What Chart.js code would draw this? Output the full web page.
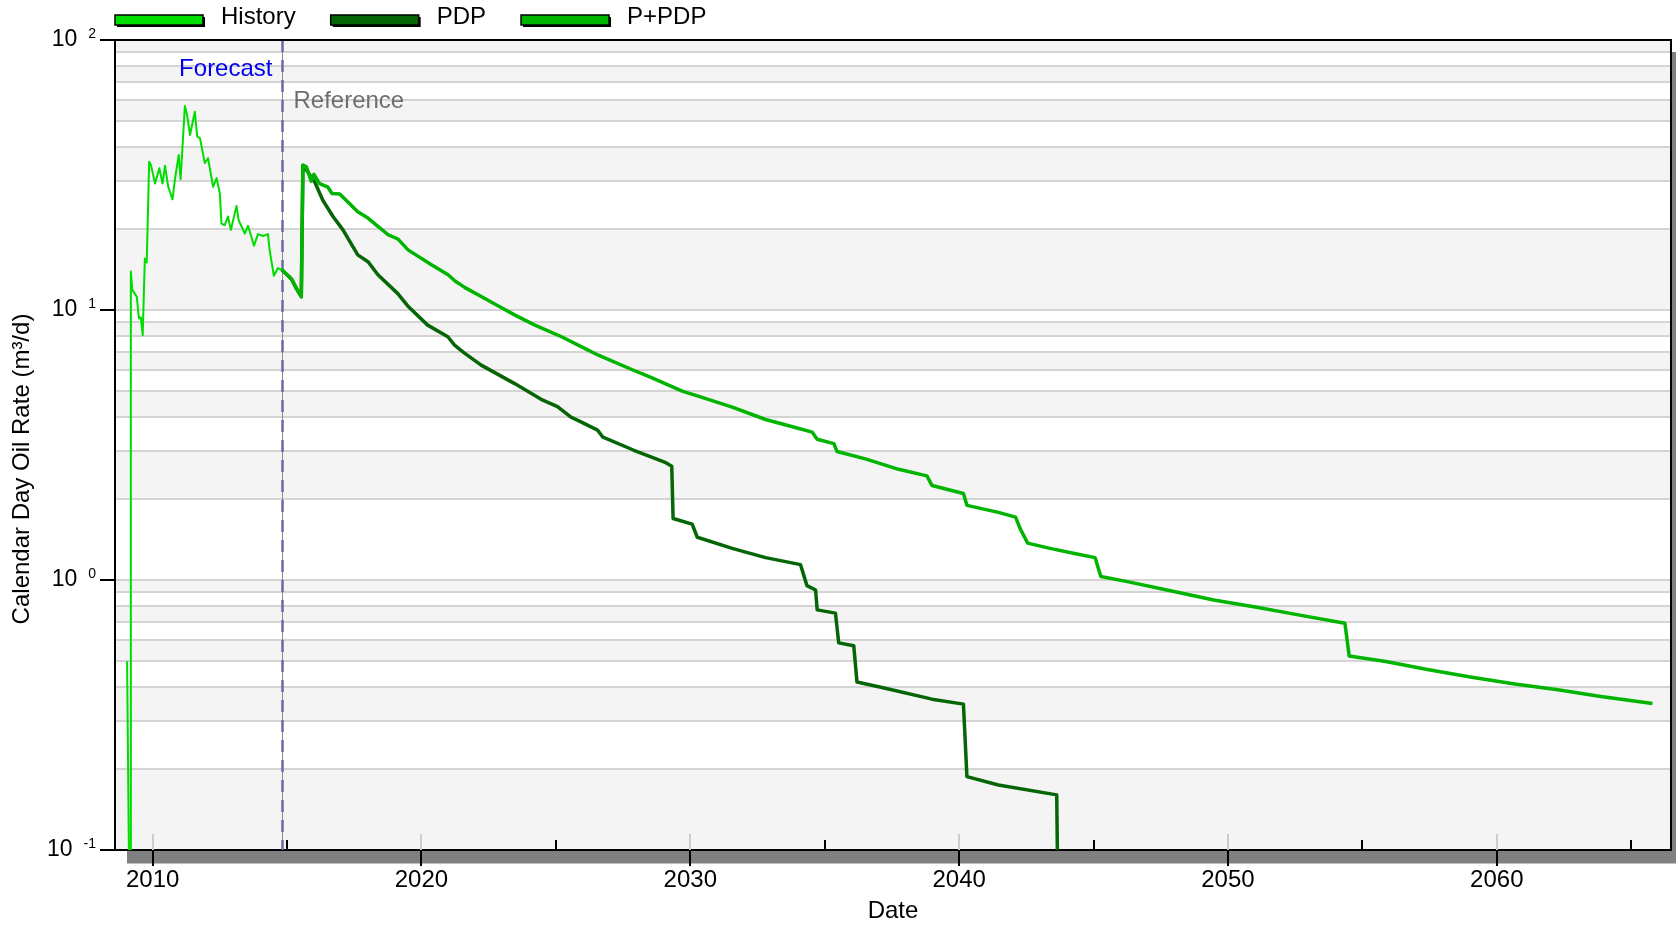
<!DOCTYPE html>
<html>
<head>
<meta charset="utf-8">
<title>Calendar Day Oil Rate</title>
<script src="https://cdn.jsdelivr.net/npm/chart.js@4.4.1/dist/chart.umd.min.js"></script>
<style>
  html, body { margin: 0; padding: 0; background: #fff; }
  #wrap { width: 1676px; height: 926px; position: relative; }
</style>
</head>
<body>
<div id="wrap"><canvas id="rate-chart"></canvas></div>
<script>
// values (years as decimals, rates in m3/d)
const histYears = [2009.05, 2009.12, 2009.18, 2009.19, 2009.24, 2009.41, 2009.49, 2009.56, 2009.63, 2009.71,
  2009.78, 2009.87, 2009.94, 2010.09, 2010.25, 2010.37, 2010.46, 2010.58, 2010.74, 2010.83,
  2010.97, 2011.04, 2011.20, 2011.28, 2011.39, 2011.57, 2011.66, 2011.76, 2011.94, 2012.06,
  2012.25, 2012.38, 2012.50, 2012.56, 2012.68, 2012.80, 2012.91, 2013.12, 2013.20, 2013.43,
  2013.55, 2013.77, 2013.92, 2014.11, 2014.29, 2014.35, 2014.51, 2014.66, 2014.80];
const histRates = [0.5, 0.09, 0.09, 13.9, 11.9, 11.2, 9.3, 9.4, 8.07, 15.5,
  15.0, 35.4, 34.4, 29.4, 33.5, 29.4, 34.2, 28.6, 25.7, 30.5,
  37.5, 30.5, 57.0, 52.8, 44.5, 54.2, 43.9, 43.3, 35.0, 36.5,
  28.6, 30.8, 27.0, 20.9, 20.6, 22.2, 19.8, 24.3, 21.5, 19.2,
  20.5, 17.3, 19.1, 18.8, 19.1, 16.7, 13.4, 14.3, 14.1];

const pdpYears = [2014.80, 2015.04, 2015.17, 2015.35, 2015.53, 2015.59, 2015.72, 2016.03, 2016.33, 2016.71,
  2017.08, 2017.63, 2018.01, 2018.38, 2019.12, 2019.49, 2020.23, 2020.98, 2021.23, 2021.60,
  2022.22, 2023.45, 2024.45, 2025.06, 2025.56, 2025.93, 2026.55, 2026.75, 2027.88, 2029.09,
  2029.31, 2029.36, 2030.07, 2030.26, 2031.56, 2032.80, 2034.10, 2034.34, 2034.66, 2034.72,
  2035.40, 2035.52, 2036.08, 2036.20, 2037.13, 2038.99, 2040.16, 2040.29, 2041.46, 2043.63,
  2043.69];
const pdpRates = [14.1, 13.4, 13.0, 12.0, 11.2, 34.4, 33.0, 29.8, 25.5, 22.2,
  19.8, 16.0, 15.1, 13.5, 11.5, 10.35, 8.79, 7.96, 7.41, 6.92,
  6.25, 5.35, 4.67, 4.39, 4.01, 3.85, 3.59, 3.38, 3.03, 2.72,
  2.64, 1.69, 1.61, 1.44, 1.31, 1.21, 1.14, 0.953, 0.918, 0.775,
  0.754, 0.585, 0.571, 0.419, 0.400, 0.362, 0.347, 0.187, 0.174, 0.160,
  0.05];

const ppdpYears = [2014.80, 2015.04, 2015.17, 2015.35, 2015.53, 2015.59, 2015.72, 2015.90, 2016.00, 2016.21,
  2016.52, 2016.67, 2016.96, 2017.63, 2018.01, 2018.38, 2018.76, 2019.13, 2019.50, 2019.88,
  2020.37, 2020.99, 2021.25, 2021.62, 2022.24, 2022.86, 2023.48, 2024.22, 2025.21, 2025.96,
  2026.58, 2027.82, 2028.47, 2029.70, 2030.32, 2031.56, 2032.80, 2034.04, 2034.53, 2034.72,
  2035.34, 2035.46, 2036.51, 2037.75, 2038.80, 2038.99, 2040.16, 2040.29, 2041.46, 2042.10,
  2042.27, 2042.55, 2043.38, 2044.34, 2045.06, 2045.27, 2046.26, 2047.86, 2049.47, 2051.07,
  2052.67, 2054.35, 2054.51, 2055.87, 2057.47, 2059.07, 2060.67, 2062.27, 2063.87, 2065.79];
const ppdpRates = [14.1, 13.4, 13.0, 12.0, 11.2, 34.4, 33.9, 30.0, 31.8, 29.4,
  28.5, 27.0, 26.9, 23.1, 21.9, 20.4, 19.0, 18.3, 16.7, 15.8,
  14.7, 13.5, 12.8, 12.1, 11.2, 10.35, 9.57, 8.79, 7.96, 7.3,
  6.8, 6.02, 5.66, 5.01, 4.79, 4.37, 3.93, 3.64, 3.53, 3.32,
  3.20, 2.99, 2.81, 2.57, 2.43, 2.24, 2.09, 1.89, 1.78, 1.71,
  1.55, 1.37, 1.31, 1.25, 1.21, 1.03, 0.986, 0.912, 0.843, 0.792,
  0.741, 0.691, 0.523, 0.499, 0.465, 0.436, 0.412, 0.392, 0.370, 0.349];

const seriesNames = ["History", "PDP", "P+PDP"];
const seriesColors = ["#00dd00", "#066606", "#00b400"];

const yTickValues = [0.1, 0.2, 0.3, 0.4, 0.5, 0.6, 0.7, 0.8, 0.9,
  1, 2, 3, 4, 5, 6, 7, 8, 9,
  10, 20, 30, 40, 50, 60, 70, 80, 90, 100];
const yLabelValues = [100, 10, 1, 0.1];
const yLabelExponents = ["2", "1", "0", "-1"];
const xTickValues = [2010, 2015, 2020, 2025, 2030, 2035, 2040, 2045, 2050, 2055, 2060, 2065];
const referenceYear = 2014.83;

const FONT = "'Liberation Sans', Arial, sans-serif";
Chart.defaults.font.family = FONT;
Chart.defaults.color = "#000";

const toPoints = (xs, ys) => xs.map((x, i) => ({ x: x, y: ys[i] }));
const isPow10 = (v) => Math.abs(Math.log10(v) - Math.round(Math.log10(v))) < 1e-9;

// shadow + alternating bands behind the plot
const backdrop = {
  id: "backdrop",
  beforeDraw(chart) {
    const { ctx, chartArea: a } = chart;
    const y = chart.scales.y;
    ctx.save();
    ctx.fillStyle = "#fff";
    ctx.fillRect(0, 0, chart.width, chart.height);
    ctx.fillStyle = "#808080";
    ctx.fillRect(a.left + 12, a.top + 12, a.right - a.left + 12, a.bottom - a.top + 1.5);
    const vals = yTickValues.slice().sort((p, q) => q - p);
    for (let i = 0; i < vals.length - 1; i++) {
      const y1 = y.getPixelForValue(vals[i]);
      const y2 = y.getPixelForValue(vals[i + 1]);
      ctx.fillStyle = i % 2 === 0 ? "#f4f4f4" : "#ffffff";
      ctx.fillRect(a.left, y1, a.right - a.left, y2 - y1);
    }
    ctx.restore();
  },
  beforeDatasetsDraw(chart) {
    const { ctx, chartArea: a } = chart;
    const x = chart.scales.x;
    ctx.save();
    // small tick marks along the bottom axis
    xTickValues.forEach((v) => {
      const px = Math.round(x.getPixelForValue(v));
      ctx.beginPath();
      if (v % 10 === 0) {
        ctx.strokeStyle = "#cccccc";
        ctx.lineWidth = 2;
        ctx.moveTo(px, a.bottom);
        ctx.lineTo(px, a.bottom - 16);
      } else {
        ctx.strokeStyle = "#000";
        ctx.lineWidth = 2;
        ctx.moveTo(px, a.bottom);
        ctx.lineTo(px, a.bottom - 10);
      }
      ctx.stroke();
    });
    // reference date line
    const rx = Math.round(x.getPixelForValue(referenceYear)) + 0.5;
    ctx.beginPath();
    ctx.strokeStyle = "#8a8a8a";
    ctx.lineWidth = 1;
    ctx.moveTo(rx, a.top);
    ctx.lineTo(rx, a.bottom);
    ctx.stroke();
    ctx.beginPath();
    ctx.setLineDash([12, 8]);
    ctx.strokeStyle = "#6a6aa6";
    ctx.lineWidth = 2.5;
    ctx.moveTo(rx, a.top);
    ctx.lineTo(rx, a.bottom);
    ctx.stroke();
    ctx.restore();
  }
};

// frame, legend, y labels, notes
const overlay = {
  id: "overlay",
  afterDraw(chart) {
    const { ctx, chartArea: a } = chart;
    const x = chart.scales.x;
    const y = chart.scales.y;
    ctx.save();

    ctx.strokeStyle = "#000";
    ctx.lineWidth = 2;
    ctx.beginPath();
    ctx.moveTo(a.left, a.top);
    ctx.lineTo(a.right, a.top);
    ctx.lineTo(a.right, a.bottom);
    ctx.stroke();

    // legend
    let lx = a.left;
    const ly = 15;
    ctx.font = "24px " + FONT;
    ctx.textBaseline = "middle";
    ctx.textAlign = "left";
    chart.data.datasets.forEach((ds) => {
      ctx.fillStyle = "#000";
      ctx.fillRect(lx + 2, ly + 2, 88, 10);
      ctx.fillStyle = ds.borderColor;
      ctx.fillRect(lx, ly, 88, 10);
      ctx.strokeStyle = "#000";
      ctx.lineWidth = 1.5;
      ctx.strokeRect(lx, ly, 88, 10);
      ctx.fillStyle = "#000";
      ctx.fillText(ds.label, lx + 106, 17);
      lx += 106 + ctx.measureText(ds.label).width + 35;
    });

    // y tick labels as 10 with exponent
    ctx.textBaseline = "alphabetic";
    ctx.textAlign = "right";
    yLabelValues.forEach((v, i) => {
      const py = y.getPixelForValue(v);
      const exp = yLabelExponents[i];
      ctx.font = "14px " + FONT;
      const ew = ctx.measureText(exp).width;
      ctx.fillText(exp, 96, py - 2);
      ctx.font = "23px " + FONT;
      ctx.fillText("10", 96 - ew - 11, py + 6);
    });

    // y axis title
    ctx.save();
    ctx.translate(22.5, (a.top + a.bottom) / 2 + 24);
    ctx.rotate(-Math.PI / 2);
    ctx.textAlign = "center";
    ctx.textBaseline = "middle";
    ctx.font = "24px " + FONT;
    ctx.fillStyle = "#000";
    ctx.fillText("Calendar Day Oil Rate (m\u00b3/d)", 0, 0);
    ctx.restore();

    // notes next to the reference line
    const rx = x.getPixelForValue(referenceYear);
    ctx.font = "24px " + FONT;
    ctx.textBaseline = "middle";
    ctx.textAlign = "right";
    ctx.fillStyle = "#0000ee";
    ctx.fillText("Forecast", rx - 10, a.top + 29);
    ctx.textAlign = "left";
    ctx.fillStyle = "#6e6e6e";
    ctx.fillText("Reference", rx + 11, a.top + 61.5);

    ctx.restore();
  }
};

const chart = new Chart(document.getElementById("rate-chart"), {
  type: "line",
  data: {
    datasets: [
      {
        label: seriesNames[0],
        data: toPoints(histYears, histRates),
        borderColor: seriesColors[0],
        borderWidth: 2,
        order: 0,
      },
      {
        label: seriesNames[1],
        data: toPoints(pdpYears, pdpRates),
        borderColor: seriesColors[1],
        borderWidth: 3.5,
        order: 2,
      },
      {
        label: seriesNames[2],
        data: toPoints(ppdpYears, ppdpRates),
        borderColor: seriesColors[2],
        borderWidth: 3.5,
        order: 1,
      },
    ],
  },
  options: {
    responsive: true,
    maintainAspectRatio: false,
    animation: false,
    clip: 0,
    elements: {
      point: { radius: 0 },
      line: { tension: 0, fill: false, borderJoinStyle: "round" },
    },
    layout: { padding: { top: 40, right: 5, left: 0, bottom: 0 } },
    plugins: {
      legend: { display: false },
      tooltip: { enabled: false },
    },
    scales: {
      x: {
        type: "linear",
        min: 2008.6,
        max: 2066.48,
        afterBuildTicks: (s) => { s.ticks = xTickValues.map((v) => ({ value: v })); },
        afterFit: (s) => { s.height = 76; },
        ticks: {
          autoSkip: false,
          maxRotation: 0,
          padding: 0,
          font: { size: 24 },
          color: "#000",
          callback: (v) => (v % 10 === 0 ? String(v) : ""),
        },
        grid: {
          drawOnChartArea: false,
          tickLength: 16,
          lineWidth: 2,
          tickColor: (c) => (c.tick && c.tick.value % 10 === 0 ? "#000" : "rgba(0,0,0,0)"),
        },
        border: { display: true, color: "#000", width: 2 },
        title: {
          display: true,
          text: "Date",
          font: { size: 24 },
          color: "#000",
          padding: { top: 0, bottom: 0 },
        },
      },
      y: {
        type: "logarithmic",
        min: 0.1,
        max: 100,
        afterBuildTicks: (s) => { s.ticks = yTickValues.map((v) => ({ value: v, major: isPow10(v) })); },
        afterFit: (s) => { s.width = 115; },
        ticks: { display: false },
        grid: {
          color: "#d4d4d4",
          lineWidth: 2,
          tickLength: 15,
          tickWidth: 2,
          tickColor: (c) => (c.tick && isPow10(c.tick.value) ? "#000" : "rgba(0,0,0,0)"),
        },
        border: { display: true, color: "#000", width: 2 },
      },
    },
  },
  plugins: [backdrop, overlay],
});
</script>
</body>
</html>
